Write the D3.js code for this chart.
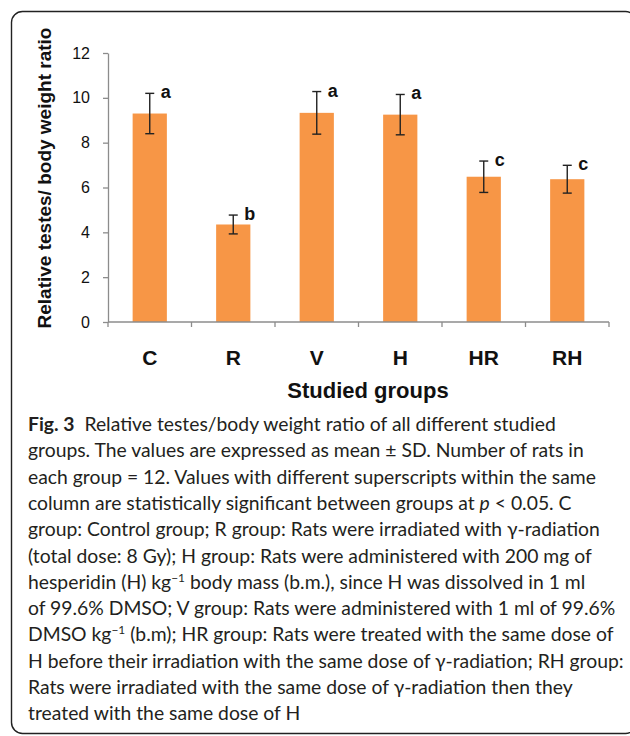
<!DOCTYPE html>
<html>
<head>
<meta charset="utf-8" />
<title>Relative testes/body weight ratio</title>
<script src="https://d3js.org/d3.v7.min.js"></script>
<style>
  body { margin: 0; background: #fff; }
  svg { display: block; }
</style>
</head>
<body>
<div id="chart"></div>
<script>
// data
var groups = ["C", "R", "V", "H", "HR", "RH"];
var means = [9.30, 4.35, 9.33, 9.25, 6.48, 6.37];
var sds = [0.90, 0.42, 0.95, 0.90, 0.70, 0.62];
var letters = ["a", "b", "a", "a", "c", "c"];
var yTicks = [0, 2, 4, 6, 8, 10, 12];

var W = 630, H = 736;
var plot = {left: 108, right: 609, top: 53, bottom: 322};

var svg = d3.select("#chart").append("svg")
  .attr("width", W)
  .attr("height", H);

// frame round the whole figure
svg.append("rect")
  .attr("x", 11.5).attr("y", 11.5)
  .attr("width", 625).attr("height", 722)
  .attr("rx", 11)
  .attr("fill", "none")
  .attr("stroke", "#222")
  .attr("stroke-width", 1.4);

var x = d3.scaleBand()
  .domain(groups)
  .range([plot.left, plot.right])
  .paddingInner(0.59)
  .paddingOuter(0.295);

var y = d3.scaleLinear()
  .domain([0, 12])
  .range([plot.bottom, plot.top]);

// y axis
var yAxis = svg.append("g")
  .attr("transform", "translate(" + plot.left + ",0)")
  .call(d3.axisLeft(y).tickValues(yTicks).tickSizeInner(5).tickSizeOuter(0).tickPadding(13));
yAxis.select(".domain").attr("stroke", "#8c8c8c").attr("stroke-width", 1.3);
yAxis.selectAll(".tick line").attr("stroke", "#8c8c8c").attr("stroke-width", 1.3);
yAxis.selectAll(".tick text")
  .attr("fill", "#111")
  .style("font-family", "'Liberation Sans', Arial, sans-serif")
  .style("font-size", "16px");

// bars
svg.append("g")
  .selectAll("rect")
  .data(groups)
  .enter()
  .append("rect")
  .attr("x", function(d) { return x(d); })
  .attr("width", x.bandwidth())
  .attr("y", function(d, i) { return y(means[i]); })
  .attr("height", function(d, i) { return y(0) - y(means[i]); })
  .attr("fill", "#f79646");

// x axis: labels under bars, ticks between categories (excel style)
var xAxis = svg.append("g")
  .attr("transform", "translate(0," + plot.bottom + ")")
  .call(d3.axisBottom(x).tickSize(0).tickPadding(28));
xAxis.select(".domain").remove();
xAxis.selectAll(".tick text")
  .attr("fill", "#111")
  .style("font-family", "'Liberation Sans', Arial, sans-serif")
  .style("font-weight", "bold")
  .style("font-size", "21px");

var bounds = [plot.left].concat(groups.map(function(d) {
  return x(d) + x.bandwidth() / 2 + x.step() / 2;
}));
var xg = svg.append("g").attr("stroke", "#8c8c8c").attr("stroke-width", 1.3);
xg.append("line")
  .attr("x1", plot.left).attr("x2", plot.right)
  .attr("y1", plot.bottom).attr("y2", plot.bottom);
xg.selectAll("line.tk")
  .data(bounds)
  .enter()
  .append("line")
  .attr("class", "tk")
  .attr("x1", function(d) { return d; }).attr("x2", function(d) { return d; })
  .attr("y1", plot.bottom).attr("y2", plot.bottom + 5);

// error bars
var eb = svg.append("g").attr("stroke", "#222").attr("stroke-width", 1.4);
groups.forEach(function(g, i) {
  var cx = x(g) + x.bandwidth() / 2;
  var lo = y(means[i] - sds[i]), hi = y(means[i] + sds[i]);
  eb.append("line").attr("x1", cx).attr("x2", cx).attr("y1", lo).attr("y2", hi);
  eb.append("line").attr("x1", cx - 4.5).attr("x2", cx + 4.5).attr("y1", lo).attr("y2", lo);
  eb.append("line").attr("x1", cx - 4.5).attr("x2", cx + 4.5).attr("y1", hi).attr("y2", hi);
});

// significance letters
svg.append("g")
  .selectAll("text")
  .data(groups)
  .enter()
  .append("text")
  .attr("x", function(d) { return x(d) + x.bandwidth() / 2 + 11; })
  .attr("y", function(d, i) { return y(means[i] + sds[i]) + 5; })
  .attr("fill", "#111")
  .style("font-family", "'Liberation Sans', Arial, sans-serif")
  .style("font-weight", "bold")
  .style("font-size", "18px")
  .text(function(d, i) { return letters[i]; });

// axis titles
svg.append("text")
  .attr("transform", "translate(51,178) rotate(-90)")
  .attr("text-anchor", "middle")
  .attr("fill", "#111")
  .style("font-family", "'Liberation Sans', Arial, sans-serif")
  .style("font-weight", "bold")
  .style("font-size", "19px")
  .text("Relative testes/ body weight ratio");

svg.append("text")
  .attr("x", 368).attr("y", 398)
  .attr("text-anchor", "middle")
  .attr("fill", "#111")
  .style("font-family", "'Liberation Sans', Arial, sans-serif")
  .style("font-weight", "bold")
  .style("font-size", "22px")
  .text("Studied groups");

// caption
var caption = [
  [{t: "Fig. 3", b: 1}, {t: "\u00a0\u00a0Relative testes/body weight ratio of all different studied"}],
  [{t: "groups. The values are expressed as mean \u00b1 SD. Number of rats in"}],
  [{t: "each group = 12. Values with different superscripts within the same"}],
  [{t: "column are statistically significant between groups at "}, {t: "p", i: 1}, {t: " < 0.05. C"}],
  [{t: "group: Control group; R group: Rats were irradiated with \u03b3-radiation"}],
  [{t: "(total dose: 8 Gy); H group: Rats were administered with 200 mg of"}],
  [{t: "hesperidin (H) kg"}, {t: "\u22121", s: 1}, {t: " body mass (b.m.), since H was dissolved in 1 ml"}],
  [{t: "of 99.6% DMSO; V group: Rats were administered with 1 ml of 99.6%"}],
  [{t: "DMSO kg"}, {t: "\u22121", s: 1}, {t: " (b.m); HR group: Rats were treated with the same dose of"}],
  [{t: "H before their irradiation with the same dose of \u03b3-radiation; RH group:"}],
  [{t: "Rats were irradiated with the same dose of \u03b3-radiation then they"}],
  [{t: "treated with the same dose of H"}]
];

var cap = svg.append("g")
  .attr("fill", "#231f20")
  .style("font-family", "Lato, 'Open Sans', sans-serif")
  .style("font-size", "19.5px");

var lines = caption.map(function(segs, k) {
  var t = cap.append("text").attr("x", 0).attr("y", 0);
  segs.forEach(function(s) {
    var ts = t.append("tspan").text(s.t);
    if (s.b) ts.style("font-weight", "bold");
    if (s.i) ts.style("font-style", "italic");
    if (s.s) {
      ts.attr("dy", -7).style("font-size", "12px");
    }
  });
  // restore baseline after superscripts
  t.selectAll("tspan").each(function(d, j) {
    if (j > 0 && segs[j - 1].s) d3.select(this).attr("dy", 7);
  });
  return t;
});

// squeeze the caption to the width of its longest line
var widest = lines[9].node().getComputedTextLength();
var sx = 596 / widest;
lines.forEach(function(t, k) {
  t.attr("transform", "translate(28," + (431 + k * 26.3) + ") scale(" + sx + ",1)");
});
</script>
</body>
</html>
